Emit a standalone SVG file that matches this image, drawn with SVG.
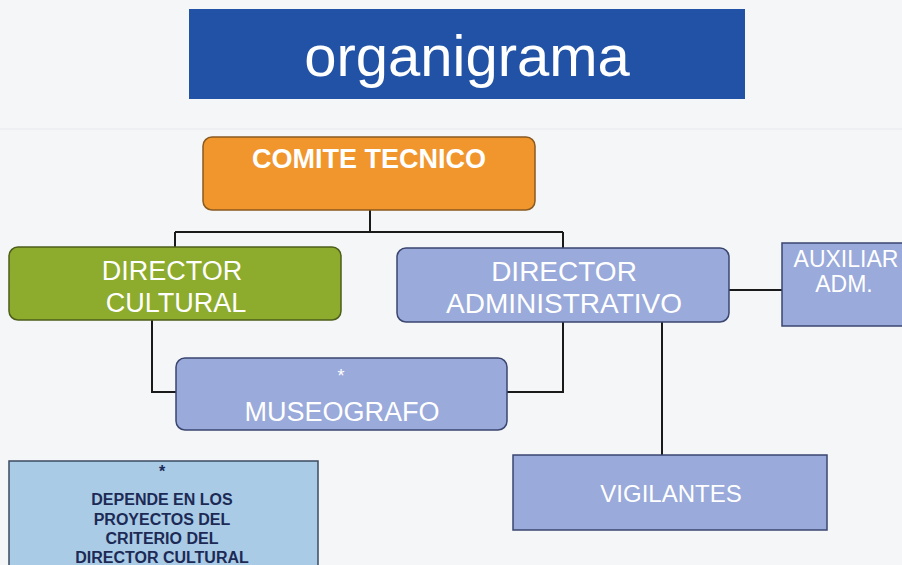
<svg xmlns="http://www.w3.org/2000/svg" width="902" height="565" viewBox="0 0 902 565">
<style>
.conn{fill:none;stroke:#1a1a1a;stroke-width:2}
.lav{fill:#9aaada;stroke:#3a4670;stroke-width:1.5}
.wt{fill:#ffffff;font-family:"Liberation Sans",Arial,sans-serif;text-anchor:middle}
.note{fill:#1c2a55;font-family:"Liberation Sans Narrow","Liberation Sans",Arial,sans-serif;font-weight:bold;font-size:16px;text-anchor:middle}
</style>
<rect x="0" y="0" width="902" height="565" fill="#f5f6f8"/>
<line x1="0" y1="129" x2="902" y2="129" stroke="#e6e8ec" stroke-width="1"/>
<g id="title">
<rect x="189" y="9" width="556" height="90" fill="#2152a6"/>
<text class="wt" x="467" y="76" font-size="58">organigrama</text>
</g>
<g id="connectors">
<path class="conn" d="M370 210 V232 M175 232 H563 M175 232 V247 M563 232 V248"/>
<path class="conn" d="M152 320 V392 H176"/>
<path class="conn" d="M563 322 V392 H507"/>
<path class="conn" d="M729 290 H782"/>
<path class="conn" d="M662 322 V455"/>
</g>
<g id="comite">
<rect x="203" y="137" width="332" height="73" rx="9" fill="#f0962c" stroke="#8a5a20" stroke-width="1.5"/>
<text class="wt" x="369" y="168" font-size="27" font-weight="bold">COMITE TECNICO</text>
</g>
<g id="dir-cultural">
<rect x="9" y="247" width="332" height="73" rx="9" fill="#8dab2c" stroke="#4d5e1a" stroke-width="1.5"/>
<text class="wt" x="172" y="280" font-size="27">DIRECTOR</text>
<text class="wt" x="176" y="312" font-size="27">CULTURAL</text>
</g>
<g id="dir-admin">
<rect class="lav" x="397" y="248" width="332" height="74" rx="9"/>
<text class="wt" x="564" y="281" font-size="28">DIRECTOR</text>
<text class="wt" x="564" y="313" font-size="28">ADMINISTRATIVO</text>
</g>
<g id="auxiliar">
<rect class="lav" x="782" y="243" width="125" height="83"/>
<text class="wt" x="846" y="267" font-size="23">AUXILIAR</text>
<text class="wt" x="844" y="292" font-size="23">ADM.</text>
</g>
<g id="museografo">
<rect class="lav" x="176" y="358" width="331" height="72" rx="9"/>
<text class="wt" x="341" y="382" font-size="18">*</text>
<text class="wt" x="342" y="421" font-size="27">MUSEOGRAFO</text>
</g>
<g id="vigilantes">
<rect class="lav" x="513" y="455" width="314" height="75"/>
<text class="wt" x="671" y="502" font-size="24">VIGILANTES</text>
</g>
<g id="nota">
<rect x="9" y="461" width="309" height="110" fill="#a9cbe6" stroke="#3b4b60" stroke-width="1.5"/>
<text class="note" x="162" y="477">*</text>
<text class="note" x="162" y="505">DEPENDE EN LOS</text>
<text class="note" x="162" y="525">PROYECTOS DEL</text>
<text class="note" x="162" y="544">CRITERIO DEL</text>
<text class="note" x="162" y="563">DIRECTOR CULTURAL</text>
</g>
</svg>
